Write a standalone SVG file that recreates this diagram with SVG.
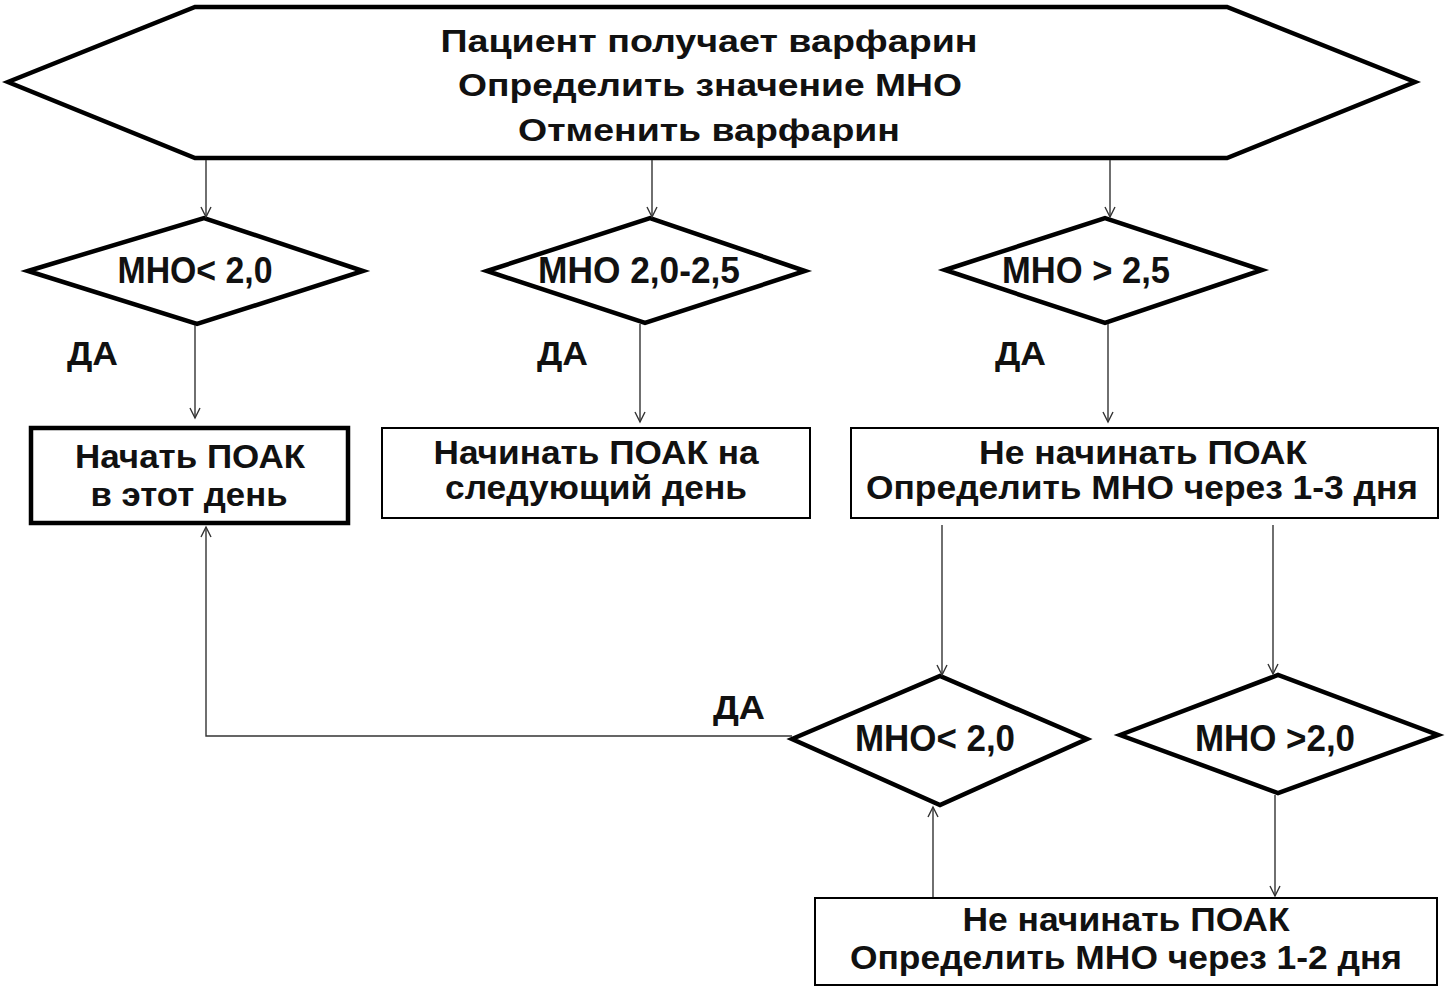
<svg xmlns="http://www.w3.org/2000/svg" width="1447" height="991" viewBox="0 0 1447 991">
<defs>
<marker id="arr" markerUnits="userSpaceOnUse" markerWidth="14" markerHeight="14" refX="11" refY="6" orient="auto">
<path d="M1,1 L11,6 L1,11" fill="none" stroke="#333" stroke-width="1.4"/>
</marker>
<style>
.shape{fill:#fff;stroke:#000;stroke-linejoin:miter}
.thick{stroke-width:4.5}
.thin{stroke-width:2}
.t{font-family:"Liberation Sans",Arial,sans-serif;font-weight:bold;fill:#111;text-anchor:middle}
.tl{font-family:"Liberation Sans",Arial,sans-serif;font-weight:bold;fill:#111}
.title{font-size:32px}
.dia{font-size:36px}
.box{font-size:34px}
.da{font-size:33px}
.conn{fill:none;stroke:#333;stroke-width:1.4}
</style>
</defs>
<rect width="1447" height="991" fill="#fff"/>

<g id="start">
<polygon class="shape thick" points="195,7 1227,7 1415,82 1227,158 195,158 8,82"/>
<text class="t title" x="709" y="52" textLength="537" lengthAdjust="spacingAndGlyphs">Пациент получает варфарин</text>
<text class="t title" x="710" y="96" textLength="504" lengthAdjust="spacingAndGlyphs">Определить значение МНО</text>
<text class="t title" x="709" y="141" textLength="382" lengthAdjust="spacingAndGlyphs">Отменить варфарин</text>
</g>

<g id="d1">
<polygon class="shape thick" points="28,271 204,218 363,271 197,324"/>
<text class="t dia" x="195" y="283" textLength="155" lengthAdjust="spacingAndGlyphs">МНО&lt; 2,0</text>
</g>
<g id="d2">
<polygon class="shape thick" points="487,271 650,218 805,271 645,323"/>
<text class="t dia" x="639" y="283" textLength="202" lengthAdjust="spacingAndGlyphs">МНО 2,0-2,5</text>
</g>
<g id="d3">
<polygon class="shape thick" points="945,270 1105,218 1262,270 1105,323"/>
<text class="t dia" x="1086" y="283" textLength="168" lengthAdjust="spacingAndGlyphs">МНО &gt; 2,5</text>
</g>

<g id="b1">
<rect class="shape thick" x="31" y="428" width="317" height="95"/>
<text class="t box" x="190" y="468" textLength="230" lengthAdjust="spacingAndGlyphs">Начать ПОАК</text>
<text class="t box" x="189" y="506" textLength="197" lengthAdjust="spacingAndGlyphs">в этот день</text>
</g>
<g id="b2">
<rect class="shape thin" x="382" y="428" width="428" height="90"/>
<text class="t box" x="596" y="464" textLength="325" lengthAdjust="spacingAndGlyphs">Начинать ПОАК на</text>
<text class="t box" x="596" y="499" textLength="302" lengthAdjust="spacingAndGlyphs">следующий день</text>
</g>
<g id="b3">
<rect class="shape thin" x="851" y="428" width="587" height="90"/>
<text class="t box" x="1143" y="464" textLength="328" lengthAdjust="spacingAndGlyphs">Не начинать ПОАК</text>
<text class="t box" x="1142" y="499" textLength="552" lengthAdjust="spacingAndGlyphs">Определить МНО через 1-3 дня</text>
</g>

<g id="d4">
<polygon class="shape thick" points="792,739 940,676 1087,739 940,805"/>
<text class="t dia" x="935" y="751" textLength="160" lengthAdjust="spacingAndGlyphs">МНО&lt; 2,0</text>
</g>
<g id="d5">
<polygon class="shape thick" points="1120,735 1278,675 1438,735 1278,793"/>
<text class="t dia" x="1275" y="751" textLength="160" lengthAdjust="spacingAndGlyphs">МНО &gt;2,0</text>
</g>

<g id="b4">
<rect class="shape thin" x="815" y="898" width="622" height="87"/>
<text class="t box" x="1126" y="931" textLength="327" lengthAdjust="spacingAndGlyphs">Не начинать ПОАК</text>
<text class="t box" x="1126" y="969" textLength="552" lengthAdjust="spacingAndGlyphs">Определить МНО через 1-2 дня</text>
</g>

<g id="connectors">
<line class="conn" x1="206" y1="160" x2="206" y2="217" marker-end="url(#arr)"/>
<line class="conn" x1="652" y1="160" x2="652" y2="217" marker-end="url(#arr)"/>
<line class="conn" x1="1110" y1="160" x2="1110" y2="217" marker-end="url(#arr)"/>
<line class="conn" x1="195" y1="325" x2="195" y2="418" marker-end="url(#arr)"/>
<line class="conn" x1="640" y1="324" x2="640" y2="422" marker-end="url(#arr)"/>
<line class="conn" x1="1108" y1="324" x2="1108" y2="422" marker-end="url(#arr)"/>
<line class="conn" x1="942" y1="525" x2="942" y2="675" marker-end="url(#arr)"/>
<line class="conn" x1="1273" y1="525" x2="1273" y2="674" marker-end="url(#arr)"/>
<line class="conn" x1="1275" y1="795" x2="1275" y2="896" marker-end="url(#arr)"/>
<line class="conn" x1="933" y1="897" x2="933" y2="807" marker-end="url(#arr)"/>
<polyline class="conn" points="792,736 206,736 206,527" marker-end="url(#arr)"/>
<text class="tl da" x="67" y="365" textLength="51" lengthAdjust="spacingAndGlyphs">ДА</text>
<text class="tl da" x="537" y="365" textLength="51" lengthAdjust="spacingAndGlyphs">ДА</text>
<text class="tl da" x="995" y="365" textLength="51" lengthAdjust="spacingAndGlyphs">ДА</text>
<text class="tl da" x="713" y="719" textLength="52" lengthAdjust="spacingAndGlyphs">ДА</text>
</g>
</svg>
